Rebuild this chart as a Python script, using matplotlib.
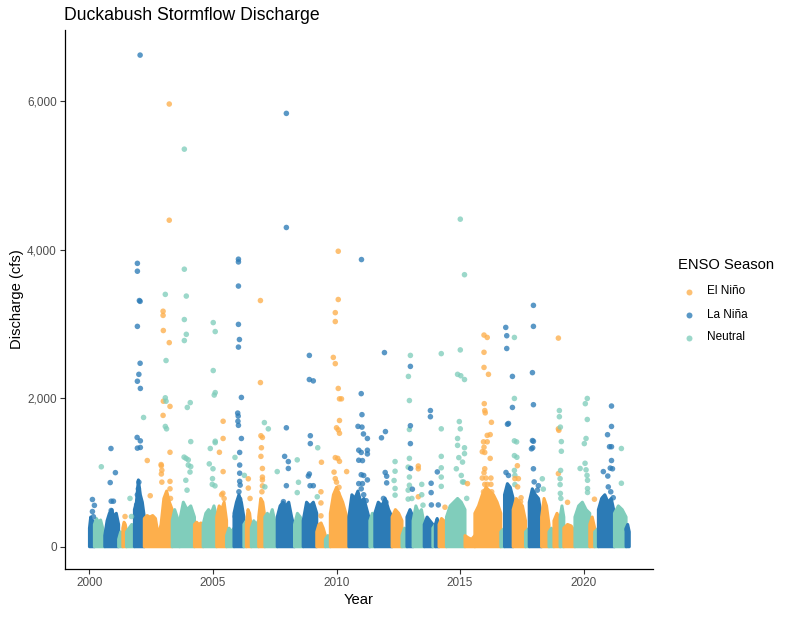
import numpy as np
import matplotlib
matplotlib.use("Agg")
import matplotlib.pyplot as plt
from matplotlib.lines import Line2D
from matplotlib.patches import Polygon

plt.rcParams['font.family'] = ['Liberation Sans', 'DejaVu Sans']

# ---------------- data ----------------
categories = ["El Niño", "La Niña", "Neutral"]
colors = {"El Niño": "#FDAF4C", "La Niña": "#2C7BB6", "Neutral": "#80CDBB"}

# dense daily mass per ENSO season: start year, end year, label, envelope heights (cfs)
seg_start = [2000.00, 2000.20, 2000.62, 2001.18, 2001.35, 2001.50, 2001.82, 2002.22, 2003.35, 2003.65,
             2004.25, 2004.60, 2005.15, 2005.55, 2005.85, 2006.25, 2006.35, 2006.55, 2006.85, 2007.10,
             2007.60, 2008.30, 2008.65, 2009.20, 2009.55, 2009.75, 2010.50, 2011.35, 2011.55, 2012.25,
             2012.65, 2012.85, 2013.10, 2013.55, 2013.90, 2014.00, 2014.15, 2014.45, 2015.20, 2015.60,
             2016.65, 2016.80, 2017.15, 2017.65, 2017.80, 2018.30, 2018.60, 2018.80, 2019.05, 2019.20,
             2019.65, 2020.25, 2020.45, 2020.60, 2021.25, 2021.72]
seg_end = seg_start[1:] + [2021.85]
seg_label = ["La Niña", "Neutral", "La Niña", "Neutral", "El Niño", "Neutral", "La Niña", "El Niño", "Neutral", "Neutral",
             "El Niño", "Neutral", "El Niño", "Neutral", "La Niña", "Neutral", "El Niño", "Neutral", "El Niño", "Neutral",
             "La Niña", "Neutral", "La Niña", "El Niño", "Neutral", "El Niño", "La Niña", "Neutral", "La Niña", "El Niño",
             "Neutral", "La Niña", "Neutral", "La Niña", "Neutral", "La Niña", "El Niño", "Neutral", "El Niño", "El Niño",
             "Neutral", "La Niña", "El Niño", "Neutral", "La Niña", "El Niño", "Neutral", "El Niño", "Neutral", "El Niño",
             "Neutral", "El Niño", "Neutral", "La Niña", "Neutral", "La Niña"]
seg_heights = [
    [250, 400, 250, 350, 200], [300, 380, 330, 360, 250, 100], [150, 350, 450, 500, 400, 450, 300],
    [100, 200, 150], [250, 330, 300, 200], [200, 250, 300, 250], [500, 600, 900, 700, 600, 400],
    [380, 420, 400, 420, 380, 150, 300, 650, 750, 600, 500], [350, 500, 400, 300], [350, 600, 500, 550, 400],
    [300, 330, 300, 320, 250], [300, 450, 500, 450, 550, 400], [400, 550, 500, 600, 350], [150, 250, 200, 250],
    [450, 600, 700, 600, 400], [300, 350], [300, 500, 450, 250], [250, 350, 300, 350], [400, 650, 600, 400],
    [400, 450, 400, 500, 350, 250], [400, 550, 600, 550, 600, 400, 250], [300, 450, 400, 300],
    [350, 600, 550, 600, 450], [200, 300, 320, 250, 150], [100, 150, 120], [450, 700, 800, 700, 600, 450, 300],
    [400, 700, 650, 750, 600, 650, 500, 350], [350, 450, 350], [450, 600, 550, 650, 500, 400], [400, 500, 450, 350],
    [150, 250, 200], [400, 500, 400], [350, 550, 450, 500, 300], [300, 400, 350, 300], [250, 300],
    [300, 380, 250], [300, 380, 350, 200], [400, 550, 600, 650, 600, 500], [150, 120, 100, 150],
    [450, 550, 700, 800, 750, 700, 600, 450], [200, 250], [700, 850, 800, 650], [500, 650, 600, 550, 350],
    [200, 250], [600, 780, 700, 650, 400], [400, 650, 550, 300], [200, 250, 150], [350, 450, 350],
    [400, 550, 400], [250, 300, 280, 200], [400, 550, 600, 500, 450], [300, 400, 250], [200, 250],
    [500, 650, 700, 600, 650, 450], [450, 550, 500, 400], [250, 300, 200]]

# individual storm-flow points
elnino_year = [2003.23, 2003.23, 2002.98, 2002.98, 2002.99, 2003.23, 2002.99, 2003.26, 2002.98, 2006.92,
               2006.92, 2005.41, 2005.41, 2005.26, 2005.41, 2006.94, 2007.00, 2006.96, 2006.94, 2002.34,
               2003.26, 2002.91, 2002.91, 2006.43, 2007.00, 2007.00, 2002.90, 2002.93, 2002.93, 2003.26,
               2003.26, 2003.28, 2002.46, 2005.40, 2005.35, 2005.45, 2006.43, 2006.50, 2007.00, 2007.00,
               2006.98, 2001.44,
               2010.07, 2010.07, 2009.95, 2009.95, 2009.87, 2009.95, 2010.07, 2010.12, 2010.20, 2010.12,
               2010.00, 2010.07, 2010.12, 2009.39, 2009.95, 2010.05, 2010.12, 2010.41, 2013.31, 2013.31,
               2009.37, 2009.90, 2009.95, 2010.00, 2010.10, 2010.05, 2009.37, 2013.31, 2014.39, 2009.37,
               2015.97, 2016.10, 2015.97, 2015.97, 2016.15, 2015.98, 2016.00, 2016.02, 2016.27, 2016.10,
               2016.22, 2015.95, 2016.10, 2015.97, 2015.90, 2016.00, 2016.22, 2016.00, 2015.97, 2016.25,
               2015.90, 2016.05, 2016.00, 2016.10, 2016.25, 2015.95, 2016.28, 2016.20, 2015.30, 2017.32,
               2017.33, 2017.22, 2017.36, 2018.98, 2018.98, 2019.00, 2018.98, 2019.35, 2020.44, 2017.47,
               2017.45]
elnino_cfs = [5963, 4398, 3172, 3116, 2912, 2749, 1960, 1890, 1769, 3316,
              2211, 1690, 1458, 1272, 1012, 1495, 1472, 1333, 1217, 1161,
              1272, 1091, 980, 915, 1054, 938, 1107, 1030, 870, 880,
              780, 650, 687, 720, 700, 650, 790, 650, 900, 820,
              740, 407,
              3980, 3330, 3153, 3033, 2550, 2466, 2132, 1992, 1992, 1700,
              1602, 1574, 1528, 1138, 1200, 1190, 1150, 1012, 1087, 1050,
              590, 1005, 917, 870, 800, 720, 740, 673, 532, 416,
              2851, 2819, 2619, 2415, 2322, 1927, 1834, 1803, 1676, 1500,
              1510, 1413, 1413, 1340, 1280, 1270, 1190, 1050, 997, 925,
              925, 925, 840, 840, 840, 740, 740, 670, 850, 1091,
              806, 917, 917, 2810, 1588, 1568, 985, 598, 640, 660,
              607]

lanina_year = [2002.05, 2001.94, 2001.94, 2002.02, 2002.05, 2001.94, 2002.05, 2002.00, 2001.94, 2002.06,
               2001.93, 2002.06, 2001.94, 2002.06, 2006.03, 2006.03, 2006.03, 2006.03, 2006.07, 2006.03,
               2006.15, 2006.00, 2006.02, 2006.01, 2006.03, 2006.15, 2000.87, 2000.84, 2001.05, 2000.12,
               2000.20, 2000.12, 2000.16, 2000.88, 2000.97, 2000.88, 2002.00, 2001.98, 2001.94, 2001.98,
               2001.91, 2006.08, 2006.08, 2006.08, 2006.08, 2006.10, 2006.05, 2006.08, 2006.06, 2005.90,
               2007.97, 2007.97, 2011.01, 2008.90, 2008.90, 2009.06, 2007.97, 2011.94, 2011.00, 2011.03,
               2010.87, 2011.03, 2011.09, 2011.25, 2011.82, 2011.98, 2008.94, 2008.94, 2012.99, 2012.99,
               2012.99, 2013.80, 2013.80, 2010.90, 2011.00, 2011.25, 2011.25, 2010.90, 2011.05, 2007.90,
               2008.05, 2008.05, 2007.97, 2008.86, 2008.90, 2008.93, 2009.06, 2011.97, 2012.03, 2012.03,
               2013.00, 2013.07, 2014.08, 2013.83, 2013.83, 2007.85, 2011.00, 2011.10, 2011.25, 2010.90,
               2011.05, 2011.00, 2011.10, 2011.20, 2010.95, 2011.90, 2012.00, 2011.85, 2013.84, 2014.12,
               2017.97, 2017.97, 2017.93, 2017.97, 2017.93, 2017.97, 2017.89, 2016.85, 2016.89, 2016.89,
               2017.12, 2017.12, 2016.92, 2016.96, 2021.13, 2021.13, 2020.97, 2021.05, 2021.13, 2021.13,
               2020.80, 2021.17, 2017.97, 2016.86, 2016.96, 2018.17, 2021.76, 2018.00, 2018.13, 2021.08,
               2020.98, 2021.00, 2021.10, 2021.20, 2020.83, 2017.94]
lanina_cfs = [6622, 3817, 3711, 3316, 3305, 2968, 2471, 2322, 2229, 2132,
              1472, 1426, 1328, 1337, 3873, 3836, 3511, 2995, 2791, 2689,
              2011, 1800, 1760, 1690, 1635, 1458, 1323, 864, 998, 636,
              557, 474, 404, 613, 613, 488, 870, 780, 700, 630,
              563, 1270, 1100, 990, 880, 830, 740, 640, 520, 407,
              5837, 4300, 3868, 2577, 2252, 2234, 1602, 2615, 2062, 1779,
              1621, 1611, 1519, 1458, 1467, 1551, 1495, 1389, 2429, 1630,
              1389, 1834, 1751, 1300, 1270, 1300, 1250, 1165, 1160, 1217,
              1147, 1054, 822, 952, 980, 822, 822, 1000, 950, 860,
              1054, 775, 1008, 855, 729, 607, 970, 960, 900, 850,
              850, 780, 700, 620, 560, 650, 600, 520, 563, 563,
              3251, 2968, 2345, 1913, 1430, 1420, 1319, 2954, 2842, 2670,
              2294, 1876, 1650, 1660, 1895, 1620, 1509, 1347, 1347, 1161,
              1012, 1050, 1050, 1000, 960, 822, 232, 873, 762, 1059,
              952, 806, 740, 660, 660, 1333]

neutral_year = [2003.84, 2003.84, 2003.07, 2003.92, 2003.84, 2003.92, 2003.84, 2005.01, 2005.09, 2005.01,
                2005.09, 2005.05, 2003.10, 2003.07, 2003.10, 2003.07, 2003.12, 2003.96, 2004.08, 2002.19,
                2005.09, 2005.09, 2004.10, 2004.89, 2000.48, 2007.08, 2007.24, 2007.60, 2005.89, 2003.83,
                2003.91, 2004.00, 2004.10, 2004.00, 2004.07, 2003.90, 2003.95, 2004.85, 2005.00, 2004.98,
                2004.97, 2005.08, 2006.27, 2007.10, 2001.64, 2001.70,
                2015.01, 2015.18, 2012.99, 2014.24, 2015.01, 2014.90, 2015.03, 2015.18, 2012.91, 2012.95,
                2012.95, 2014.24, 2014.97, 2015.01, 2009.24, 2008.41, 2014.90, 2014.90, 2015.18, 2015.18,
                2012.37, 2012.37, 2012.33, 2014.24, 2014.24, 2014.24, 2014.24, 2008.46, 2008.41, 2012.95,
                2012.90, 2012.95, 2012.95, 2012.90, 2012.90, 2009.22, 2013.45, 2013.45, 2013.05, 2013.50,
                2012.37, 2012.37, 2014.95, 2015.10, 2014.85, 2015.05, 2015.15,
                2017.20, 2017.20, 2017.20, 2017.29, 2020.15, 2020.07, 2020.15, 2020.10, 2020.03, 2019.02,
                2019.02, 2019.06, 2019.10, 2019.10, 2018.33, 2018.37, 2021.53, 2021.53, 2020.06, 2019.86,
                2020.10, 2020.14, 2020.16, 2020.16, 2020.16, 2019.07, 2019.05, 2019.05, 2019.06, 2019.08,
                2017.20, 2017.30, 2017.20, 2017.22, 2017.22, 2015.10, 2015.27]
neutral_cfs = [5355, 3738, 3399, 3376, 3060, 2861, 2777, 3019, 2898, 2373,
               2076, 2043, 2508, 2006, 1960, 1620, 1588, 1876, 1941, 1741,
               1421, 1402, 1416, 1323, 1077, 1672, 1588, 1012, 1203, 1207,
               1190, 1100, 1080, 1170, 1006, 895, 762, 1116, 1050, 917,
               840, 820, 961, 806, 651, 407,
               4412, 3664, 2577, 2601, 2651, 2322, 2303, 2252, 2294, 1969,
               1579, 1588, 1686, 1588, 1333, 1170, 1458, 1365, 1333, 1254,
               1147, 1017, 892, 1217, 1063, 938, 813, 868, 729, 1190,
               1072, 939, 828, 762, 642, 673, 840, 700, 650, 560,
               785, 695, 1200, 1140, 1050, 960, 870,
               2819, 1997, 1426, 1412, 1997, 1927, 1714, 1458, 1389, 1834,
               1751, 1611, 1416, 1286, 915, 776, 1323, 855, 1124, 1054,
               1036, 961, 895, 784, 731, 1028, 917, 837, 718, 651,
               1227, 1205, 1028, 961, 837, 873, 651]

x_ticks = [2000, 2005, 2010, 2015, 2020]
y_ticks = [0, 2000, 4000, 6000]
y_tick_labels = ["0", "2,000", "4,000", "6,000"]

# ---------------- figure ----------------
W, H = 787, 617
fig = plt.figure(figsize=(W / 100, H / 100), dpi=100)
ax = fig.add_axes([65 / W, 1 - 569 / H, (653 - 65) / W, (569 - 30) / H])

# dense masses
for i, (s, e, lab, h) in enumerate(zip(seg_start, seg_end, seg_label, seg_heights)):
    xs = np.linspace(s, e, len(h))
    pts = [(s, 0)] + list(zip(xs, h)) + [(e, 0)]
    poly = Polygon(pts, closed=True, facecolor=colors[lab], edgecolor=colors[lab],
                   linewidth=2.2, joinstyle='round', zorder=2 + i * 0.01)
    ax.add_patch(poly)

# individual points (ordered by date like the original)
all_year = np.array(elnino_year + lanina_year + neutral_year)
all_cfs = np.array(elnino_cfs + lanina_cfs + neutral_cfs)
all_col = ([colors["El Niño"]] * len(elnino_year) + [colors["La Niña"]] * len(lanina_year)
           + [colors["Neutral"]] * len(neutral_year))
order = np.argsort(all_year)
ax.scatter(all_year[order], all_cfs[order], s=16, c=[all_col[i] for i in order],
           alpha=0.78, linewidths=0, zorder=5)

ax.set_xlim(1999.01, 2022.81)
ax.set_ylim(-300, 6960)
ax.set_xticks(x_ticks)
ax.set_xticklabels([str(t) for t in x_ticks])
ax.set_yticks(y_ticks)
ax.set_yticklabels(y_tick_labels)
for sp in ['top', 'right']:
    ax.spines[sp].set_visible(False)
for sp in ['left', 'bottom']:
    ax.spines[sp].set_linewidth(0.9)
    ax.spines[sp].set_color('black')
ax.tick_params(axis='both', length=3.5, width=0.8, color='#333333', labelcolor='#4D4D4D',
               labelsize=8.5, pad=2.5)

ax.set_xlabel("Year", fontsize=10.6, color='black', labelpad=3)
ax.set_ylabel("Discharge (cfs)", fontsize=10.6, color='black', labelpad=2)

fig.text(64 / W, 1 - 16 / H, "Duckabush Stormflow Discharge", fontsize=12.7,
         color='black', ha='left', va='center')

# legend
fig.text(678 / W, 1 - 265 / H, "ENSO Season", fontsize=10.6, color='black', ha='left', va='center')
for lab, yy in zip(categories, [291.5, 314.5, 337.5]):
    fig.add_artist(Line2D([689 / W], [1 - yy / H], transform=fig.transFigure, marker='o',
                          markersize=4.3, markeredgewidth=0, color=colors[lab], alpha=0.78,
                          linestyle='none'))
    fig.text(707 / W, 1 - yy / H, lab, fontsize=8.5, color='black', ha='left', va='center')

fig.savefig("out.png", dpi=100)
